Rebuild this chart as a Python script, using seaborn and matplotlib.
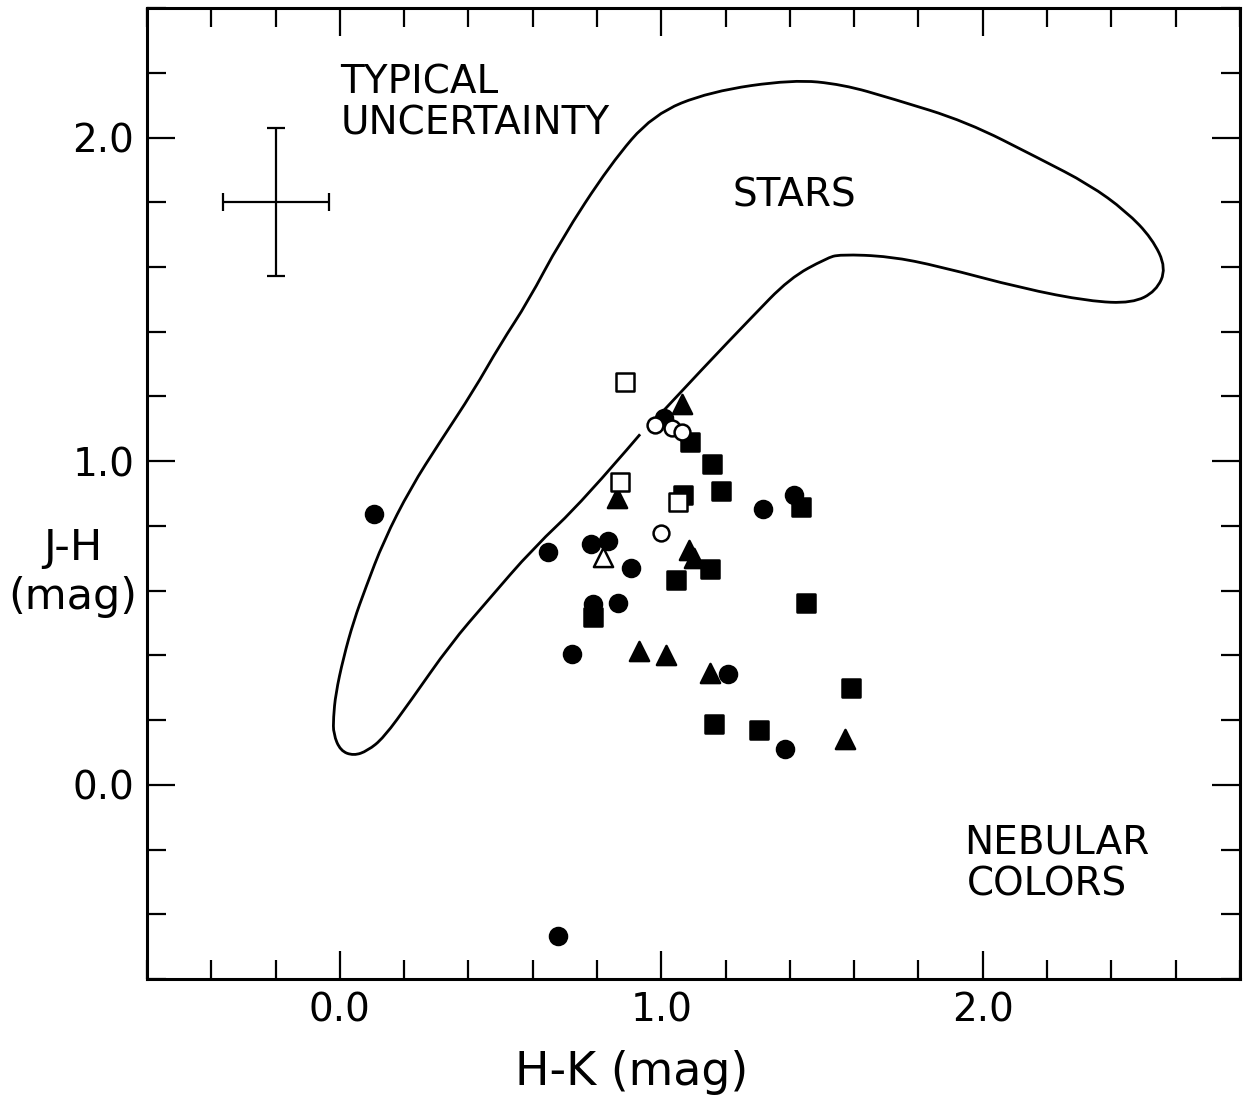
import numpy as np
import pandas as pd
import matplotlib
matplotlib.use("Agg")
import matplotlib.pyplot as plt
from matplotlib.ticker import MultipleLocator
from matplotlib.path import Path
from matplotlib.patches import PathPatch
import seaborn as sns

# H-K, J-H colours
filled_circle_hk = [0.106, 1.009, 1.316, 1.413, 0.647, 0.782, 0.833, 0.905, 0.789, 0.864, 0.723, 1.207, 1.386, 0.680]
filled_circle_jh = [0.836, 1.134, 0.851, 0.895, 0.719, 0.745, 0.753, 0.671, 0.558, 0.563, 0.403, 0.342, 0.110, -0.466]

filled_square_hk = [1.088, 1.158, 1.186, 1.069, 1.434, 1.153, 1.045, 1.450, 0.789, 1.589, 1.164, 1.303]
filled_square_jh = [1.060, 0.990, 0.907, 0.897, 0.859, 0.666, 0.633, 0.563, 0.519, 0.300, 0.189, 0.169]

filled_tri_hk = [1.065, 0.862, 1.086, 1.102, 0.931, 1.014, 1.151, 1.571]
filled_tri_jh = [1.177, 0.887, 0.727, 0.702, 0.414, 0.400, 0.347, 0.141]

open_circle_hk = [0.980, 1.034, 1.063, 1.000]
open_circle_jh = [1.113, 1.103, 1.090, 0.779]

open_square_hk = [0.887, 0.872, 1.052]
open_square_jh = [1.244, 0.935, 0.873]

open_tri_hk = [0.820]
open_tri_jh = [0.704]

# outline of the stellar locus ("STARS"), open where the points sit on it
stars_hk = [0.934, 0.757, 0.601, 0.459, 0.344, 0.220, 0.136, 0.086, 0.043, 0.002,
            -0.020, -0.020, -0.013, 0.011, 0.043, 0.080, 0.136, 0.220, 0.313, 0.415,
            0.499, 0.586, 0.685, 0.841, 0.974, 1.151, 1.409, 1.564, 1.719, 1.949,
            2.176, 2.331, 2.446, 2.527, 2.571, 2.539, 2.465, 2.331, 2.123, 1.865,
            1.710, 1.555, 1.514, 1.399, 1.275, 1.141, 1.005]
stars_jh = [1.083, 0.877, 0.731, 0.568, 0.435, 0.259, 0.145, 0.105, 0.090, 0.105,
            0.157, 0.207, 0.281, 0.392, 0.506, 0.608, 0.753, 0.917, 1.062, 1.216,
            1.361, 1.494, 1.679, 1.917, 2.071, 2.142, 2.179, 2.164, 2.120, 2.049,
            1.935, 1.855, 1.772, 1.688, 1.596, 1.525, 1.488, 1.494, 1.534, 1.602,
            1.633, 1.639, 1.627, 1.565, 1.438, 1.299, 1.154]

# typical uncertainty cross
err_hk, err_jh = -0.2, 1.8
err_dx, err_dy = 0.165, 0.228

groups = [
    ("filled circle", filled_circle_hk, filled_circle_jh, "o", "black"),
    ("filled square", filled_square_hk, filled_square_jh, "s", "black"),
    ("filled triangle", filled_tri_hk, filled_tri_jh, "^", "black"),
    ("open circle", open_circle_hk, open_circle_jh, "o", "white"),
    ("open square", open_square_hk, open_square_jh, "s", "white"),
    ("open triangle", open_tri_hk, open_tri_jh, "^", "white"),
]

sns.set_style("ticks")
plt.rcParams["font.family"] = ["DejaVu Sans"]
plt.rcParams["text.color"] = "black"
plt.rcParams["axes.labelcolor"] = "black"

fig = plt.figure(figsize=(12.55, 11.03), dpi=100)
ax = fig.add_axes([0.1171, 0.1124, 0.8709, 0.8803])

# smooth outline: traced points used as quadratic bezier controls
pts = np.column_stack([stars_hk, stars_jh])
verts = [pts[0]]
codes = [Path.MOVETO]
for i in range(1, len(pts) - 2):
    verts += [pts[i], (pts[i] + pts[i + 1]) / 2]
    codes += [Path.CURVE3, Path.CURVE3]
verts += [pts[-2], pts[-1]]
codes += [Path.CURVE3, Path.CURVE3]
ax.add_patch(PathPatch(Path(verts, codes), fill=False, edgecolor="black", lw=2.0))

for name, hk, jh, m, fc in groups:
    df = pd.DataFrame({"hk": hk, "jh": jh})
    size = 150 if m != "^" else 190
    if fc == "white":
        size = 130 if m == "o" else size
    sns.scatterplot(data=df, x="hk", y="jh", marker=m, color=fc, edgecolor="black",
                    linewidth=1.8, s=size, ax=ax, zorder=3, legend=False)

ax.errorbar(err_hk, err_jh, xerr=err_dx, yerr=err_dy, color="black", lw=1.6,
            capsize=6.5, capthick=1.6)

ax.set_xlim(-0.6, 2.8)
ax.set_ylim(-0.6, 2.4)
ax.xaxis.set_major_locator(MultipleLocator(1.0))
ax.yaxis.set_major_locator(MultipleLocator(1.0))
ax.xaxis.set_minor_locator(MultipleLocator(0.2))
ax.yaxis.set_minor_locator(MultipleLocator(0.2))
ax.xaxis.set_major_formatter(lambda v, p: f"{v:.1f}")
ax.yaxis.set_major_formatter(lambda v, p: f"{v:.1f}")

ax.tick_params(which="both", direction="in", top=True, right=True, width=1.6,
               labelsize=28, color="black", labelcolor="black")
ax.tick_params(which="major", length=20, pad=9)
ax.tick_params(which="minor", length=14)
for s in ax.spines.values():
    s.set_linewidth(2.2)
    s.set_color("black")

ax.set_xlabel("H-K (mag)", fontsize=33)
ax.xaxis.set_label_coords(0.443, -0.109)
ax.xaxis.label.set_va("baseline")
ax.set_ylabel("J-H\n(mag)", fontsize=31, rotation=0, ha="center", va="center",
              multialignment="center")
ax.yaxis.set_label_coords(-0.0677, 0.4186)

ax.text(0.002, 2.136, "TYPICAL", fontsize=28, va="baseline")
ax.text(0.002, 2.009, "UNCERTAINTY", fontsize=28, va="baseline")
ax.text(1.222, 1.787, "STARS", fontsize=28, va="baseline")
ax.text(1.943, -0.213, "NEBULAR", fontsize=28, va="baseline")
ax.text(1.950, -0.343, "COLORS", fontsize=28, va="baseline")

fig.savefig("out.png", dpi=100)
plt.close(fig)
